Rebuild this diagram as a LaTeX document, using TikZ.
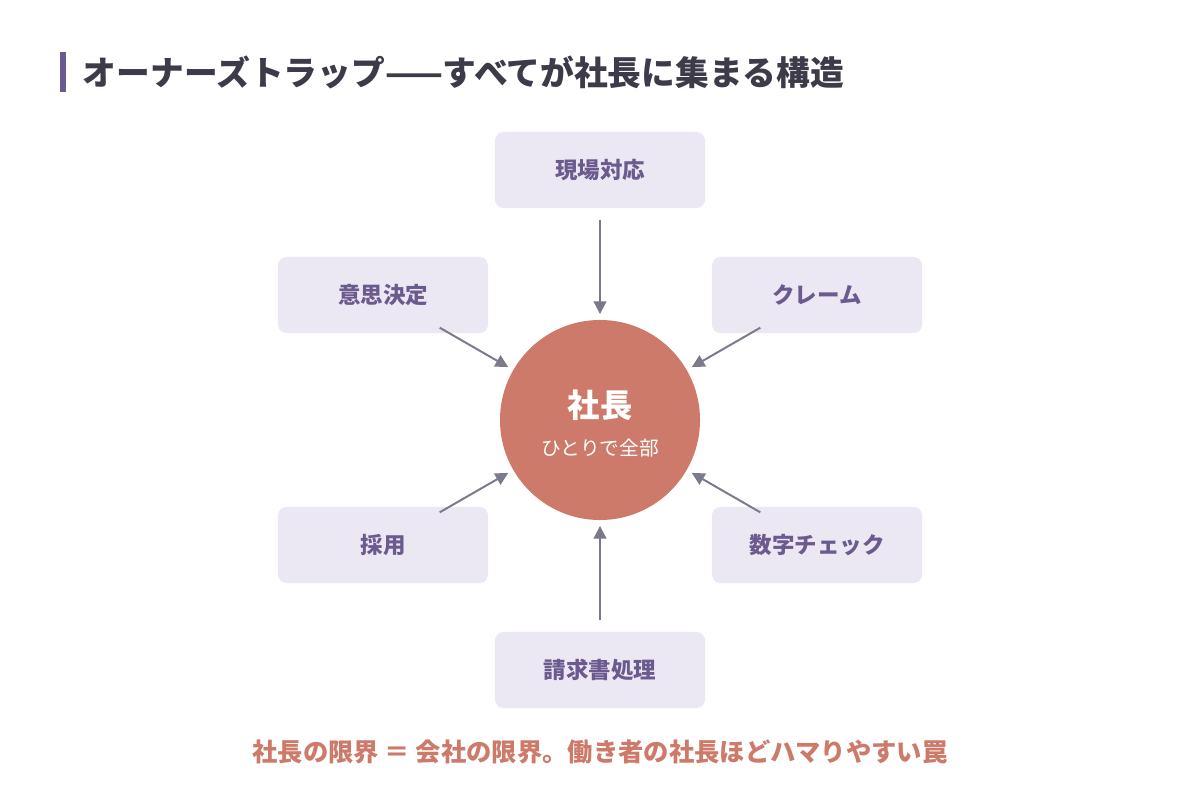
\documentclass[tikz,border=0pt]{standalone}
\usepackage{fontspec}
\setmainfont{Noto Sans CJK JP}
\usetikzlibrary{arrows.meta}
\definecolor{boxfill}{HTML}{ECE8F3}
\definecolor{boxtext}{HTML}{6B5A8E}
\definecolor{boss}{HTML}{CD7A6B}
\definecolor{arrowc}{HTML}{7A7A8A}
\definecolor{titlec}{HTML}{3D3B4A}
\begin{document}
\begin{tikzpicture}[x=0.025cm, y=-0.025cm,
	task/.style={shape=rectangle, rounded corners=6pt, fill=boxfill, minimum width=5.25cm, minimum height=1.9cm, text=boxtext, font=\bfseries\fontsize{16}{18}\selectfont},
	feed/.style={draw=arrowc, line width=1.4pt, -{Triangle[length=9pt,width=9pt]}, shorten <=8pt, shorten >=4pt},
	slant/.style={feed, shorten <=-8pt}]
	\useasboundingbox (0,0) rectangle (1200,800);
	% Title
	\fill[boxtext] (60,52) rectangle (66,92);
	\node[anchor=west, text=titlec, font=\bfseries\fontsize{24}{27}\selectfont](title) at (78,72){オーナーズトラップ——すべてが社長に集まる構造};
	% Center
	\node[circle, fill=boss, minimum size=5cm](ceo) at (600,420){};
	\node[text=white, font=\bfseries\fontsize{23}{25}\selectfont](ceoname) at (600,405){社長};
	\node[text=white, font=\fontsize{14}{16}\selectfont](ceosub) at (600,448){ひとりで全部};
	% Tasks
	\node[task](t1) at (600,170){現場対応};
	\node[task](t2) at (383,295){意思決定};
	\node[task](t3) at (817,295){クレーム};
	\node[task](t4) at (383,545){採用};
	\node[task](t5) at (817,545){数字チェック};
	\node[task](t6) at (600,670){請求書処理};
	\foreach \t in {t1,t6}
		\draw[feed] (\t) -- (ceo);
	\foreach \t in {t2,t3,t4,t5}
		\draw[slant] (\t) -- (ceo);
	% Footer
	\node[text=boss, font=\bfseries\fontsize{18}{21}\selectfont](note) at (600,752){社長の限界 ＝ 会社の限界。働き者の社長ほどハマりやすい罠};
\end{tikzpicture}
\end{document}
